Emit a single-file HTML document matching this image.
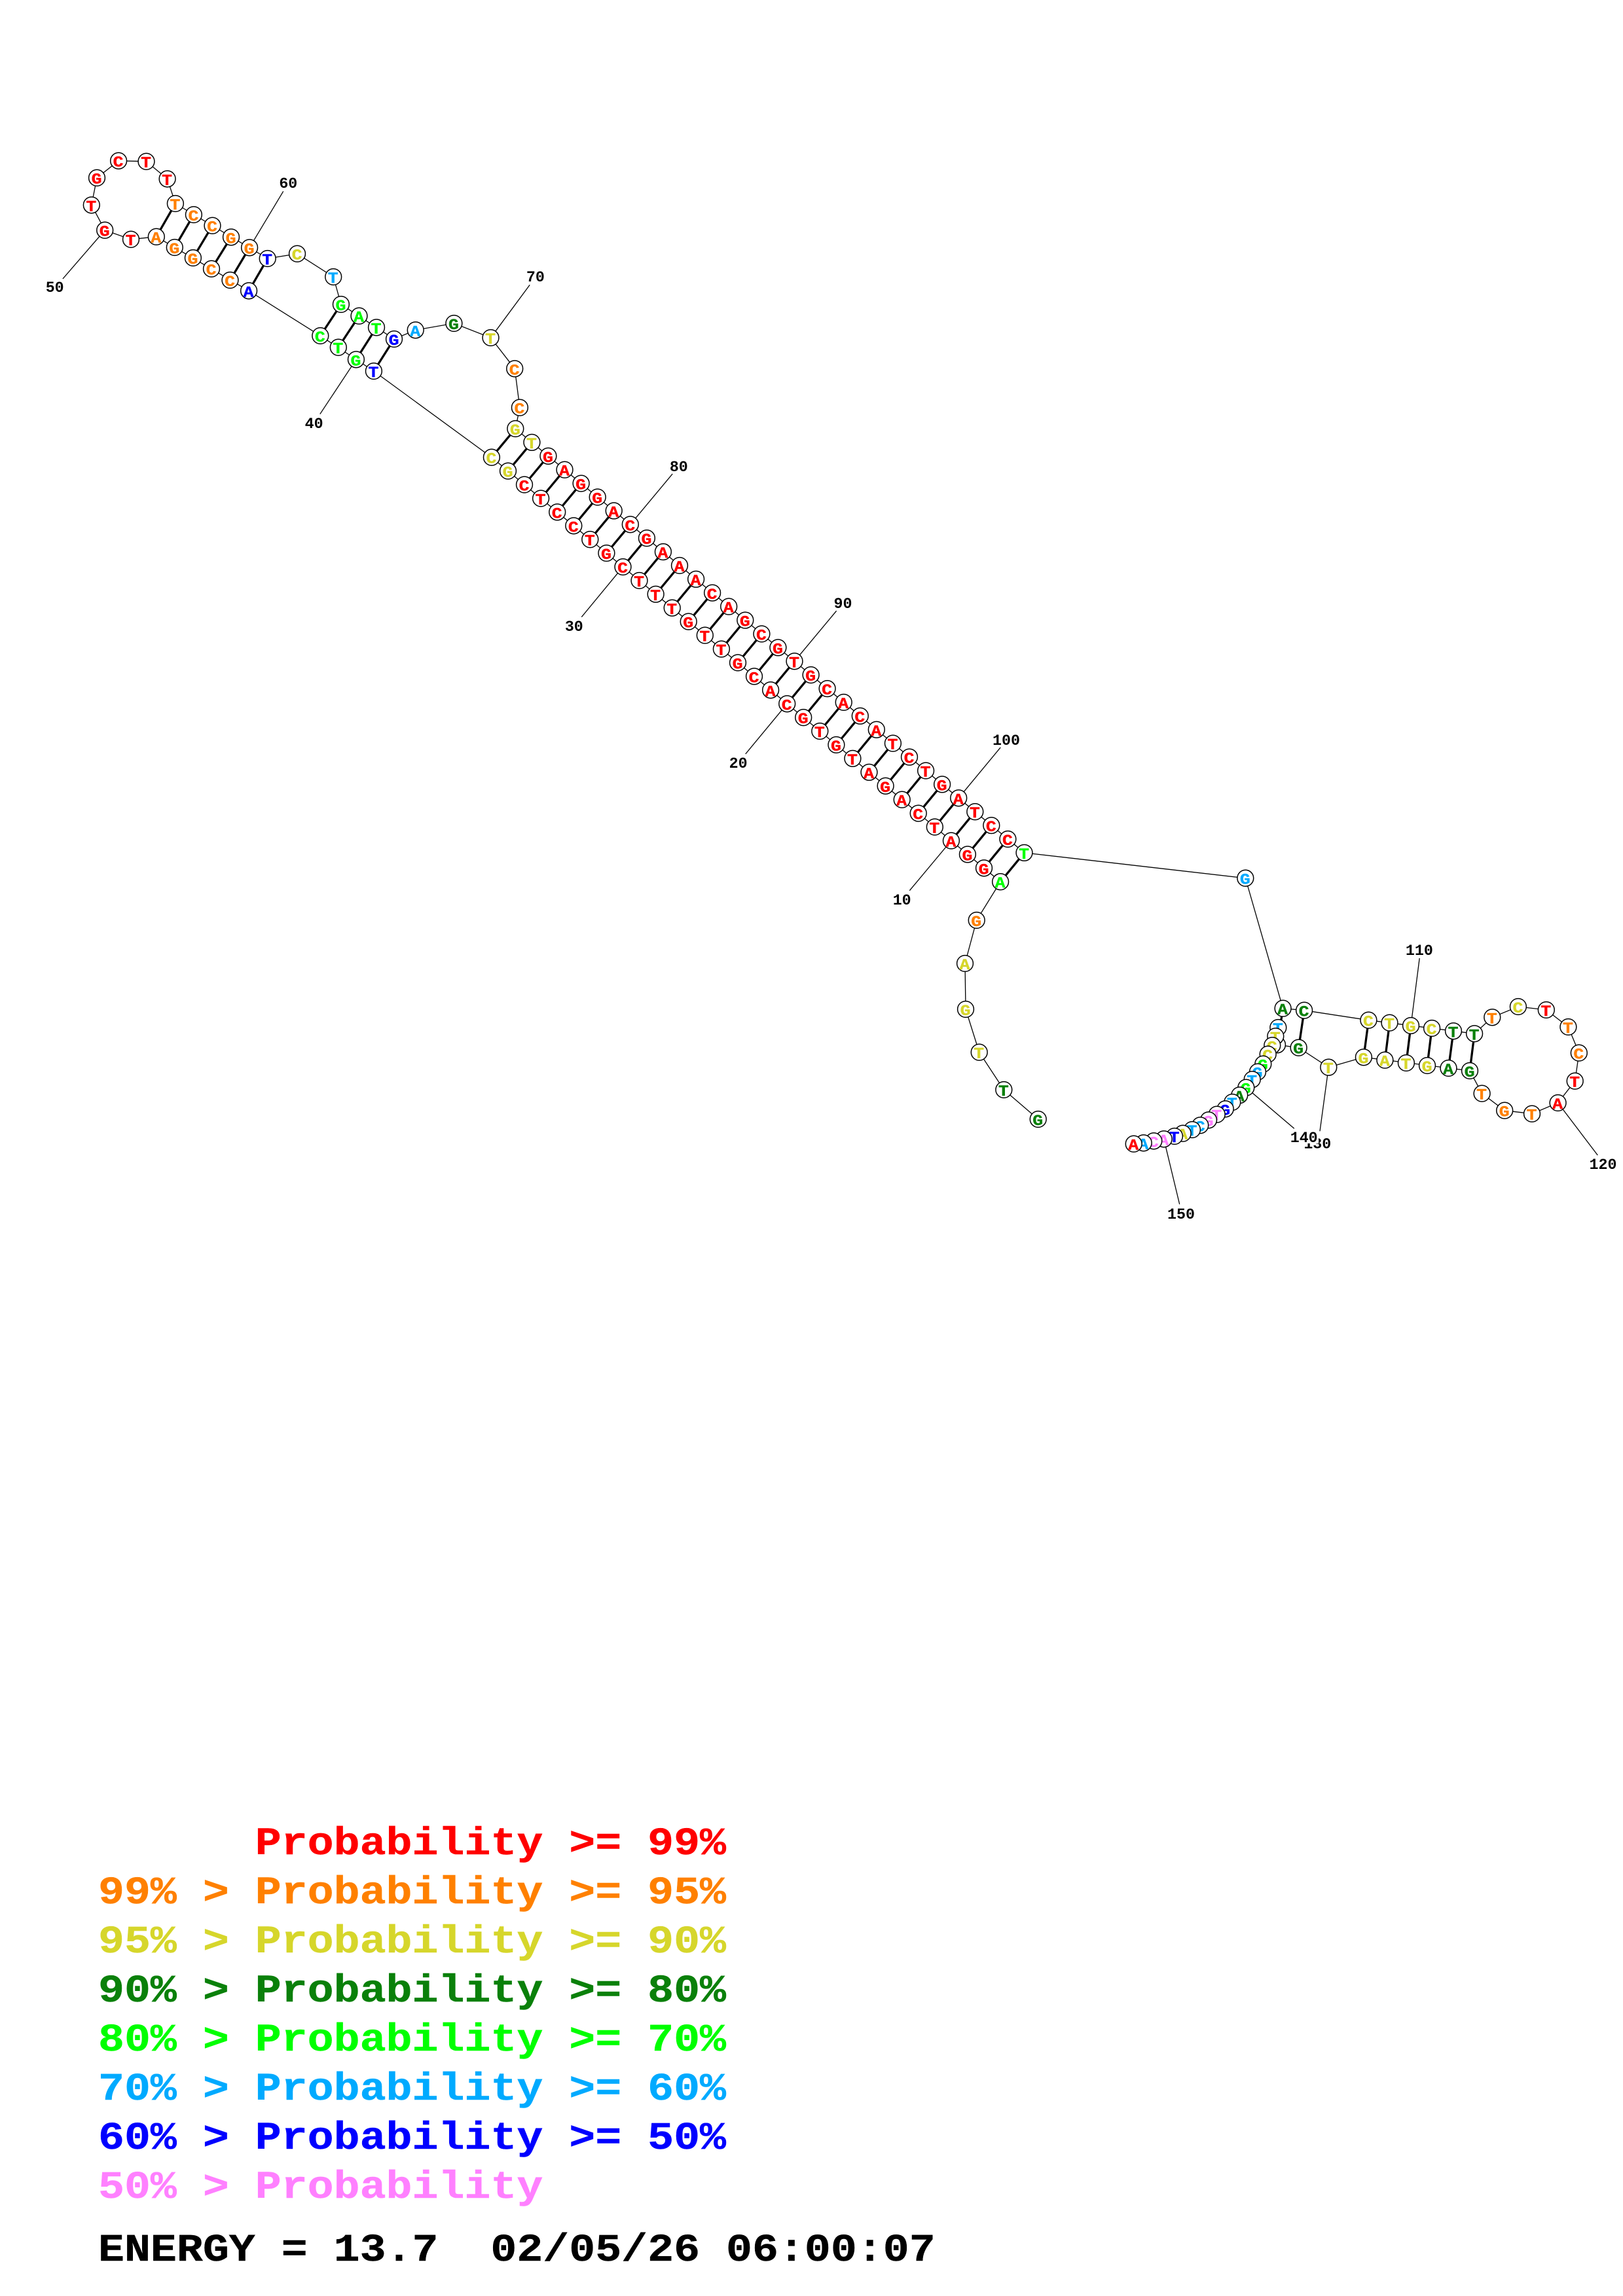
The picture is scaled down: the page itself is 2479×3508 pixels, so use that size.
<!DOCTYPE html>
<html><head><meta charset="utf-8"><style>
html,body{margin:0;padding:0;background:#fff}
svg{display:block}
.r{fill:#ff0000;stroke:#ff0000}.o{fill:#ff8000;stroke:#ff8000}.y{fill:#d6d62b;stroke:#d6d62b}.d{fill:#0a800a;stroke:#0a800a}.g{fill:#00ff00;stroke:#00ff00}.u{fill:#00aaff;stroke:#00aaff}.b{fill:#0000ff;stroke:#0000ff}.p{fill:#ff80ff;stroke:#ff80ff}.k{fill:#000;stroke:#000}
#n circle{r:12.4px;fill:#fff;stroke:#000;stroke-width:1.5}
#n text{font:bold 23px "Liberation Mono",monospace;text-anchor:middle;stroke-width:.4;transform:translate(-.5px,9px) scaleX(1.15)}
#l text{font:bold 23.3px "Liberation Mono",monospace;text-anchor:middle;fill:#000}
#h text{font:bold 66.6px "Liberation Mono",monospace;white-space:pre;stroke-width:.5}
</style></head><body>
<svg width="2479" height="3508" viewBox="0 0 2479 3508" xmlns="http://www.w3.org/2000/svg">
<rect width="2479" height="3508" fill="#fff"/>
<polyline fill="none" stroke="#000" stroke-width="1.3" points="1585.7,1710 1533.3,1665 1495.7,1607.7 1475,1542 1474,1472 1491.7,1406 1528.1,1347.2 750.9,698.7 570.9,567 489.3,513 380.1,444.3 238.8,361.7 200,365.7 160.2,351.7 139.8,313.3 148,271.7 181.1,245.7 223.5,246.7 255.6,273.3 267.9,311 408.7,395 454,387.7 509.2,423 520.9,465 602,518 634.7,504.3 693.4,494 749.5,516 786.2,563.3 793.9,622.7 787.3,655 1564.5,1302.9 1902.3,1341.7 1959.6,1540.7 1992.1,1543.7 2090.4,1558.7 2252.1,1579.3 2279.3,1554.3 2318.9,1538 2361.8,1543 2395.4,1569 2411.8,1608.7 2405.7,1651.7 2379.6,1685 2340,1701.7 2298.2,1696.7 2263.6,1670.7 2245,1636 2082.9,1615.3 2029.3,1630.7 1983.6,1600.7 1951,1596.3"/>
<path fill="none" stroke="#000" stroke-width="1.3" d="M432.7 292.3L381.1 378.3M95.9 426L160.2 351.7M809.2 435.3L749.5 516M488.8 632.7L543.9 549.3M1027.2 724L962.8 801.3M888.3 942.7L951.5 866.1M1277.6 933.3L1213.5 1010.3M1138.7 1152L1202.2 1075.3M1528.2 1142L1464.2 1219.3M1389.3 1360.7L1452.9 1284.5M2168.2 1464L2155 1567M2440.3 1765L2379.6 1685M2016 1728.3L2029.3 1630.7M1976.8 1724.3L1903.3 1661.7M1801.7 1840L1777.7 1740.3"/>
<path fill="none" stroke="#000" stroke-width="3.3" d="M267.9 311L238.8 361.7M295.9 328L266.8 378M324.5 344.7L294.9 394M353 362.3L323 410.7M381.1 378.3L351.5 428M408.7 395L380.1 444.3M520.9 465L489.3 513M548.5 482.7L516.8 530.7M575 500.3L543.9 549.3M602 518L570.9 567M787.3 655L750.9 698.7M812.4 675.9L776 719.6M837.4 696.8L801 740.5M862.5 717.7L826.1 761.5M887.6 738.6L851.2 782.4M912.7 759.5L876.3 803.3M937.7 780.4L901.3 824.2M962.8 801.3L926.4 845.1M987.9 822.2L951.5 866.1M1012.9 843.1L976.5 887M1038 864L1001.6 907.9M1063.1 884.9L1026.7 928.8M1088.1 905.8L1051.7 949.7M1113.2 926.7L1076.8 970.7M1138.3 947.6L1101.9 991.6M1163.4 968.5L1127 1012.5M1188.4 989.4L1152 1033.4M1213.5 1010.3L1177.1 1054.3M1238.6 1031.2L1202.2 1075.3M1263.6 1052.1L1227.2 1096.2M1288.7 1073L1252.3 1117.1M1313.8 1093.9L1277.4 1138M1338.8 1114.8L1302.4 1158.9M1363.9 1135.7L1327.5 1179.9M1389 1156.6L1352.6 1200.8M1414.1 1177.5L1377.7 1221.7M1439.1 1198.4L1402.7 1242.6M1464.2 1219.3L1427.8 1263.5M1489.3 1240.2L1452.9 1284.5M1514.3 1261.1L1477.9 1305.4M1539.4 1282L1503 1326.3M1564.5 1302.9L1528.1 1347.2M1959.6 1540.7L1951 1596.3M1992.1 1543.7L1983.6 1600.7M2090.4 1558.7L2082.9 1615.3M2122.5 1562.7L2115.4 1619.7M2155 1567L2147.9 1624M2187.1 1571L2180 1628M2220 1575.3L2212.5 1632M2252.1 1579.3L2245 1636"/>
<g id="n">
<g class="d" transform="translate(1585.7 1710)"><circle/><text>G</text></g>
<g class="d" transform="translate(1533.3 1665)"><circle/><text>T</text></g>
<g class="y" transform="translate(1495.7 1607.7)"><circle/><text>T</text></g>
<g class="y" transform="translate(1475 1542)"><circle/><text>G</text></g>
<g class="y" transform="translate(1474 1472)"><circle/><text>A</text></g>
<g class="o" transform="translate(1491.7 1406)"><circle/><text>G</text></g>
<g class="g" transform="translate(1528.1 1347.2)"><circle/><text>A</text></g>
<g class="r" transform="translate(1503 1326.3)"><circle/><text>G</text></g>
<g class="r" transform="translate(1477.9 1305.4)"><circle/><text>G</text></g>
<g class="r" transform="translate(1452.9 1284.5)"><circle/><text>A</text></g>
<g class="r" transform="translate(1427.8 1263.5)"><circle/><text>T</text></g>
<g class="r" transform="translate(1402.7 1242.6)"><circle/><text>C</text></g>
<g class="r" transform="translate(1377.7 1221.7)"><circle/><text>A</text></g>
<g class="r" transform="translate(1352.6 1200.8)"><circle/><text>G</text></g>
<g class="r" transform="translate(1327.5 1179.9)"><circle/><text>A</text></g>
<g class="r" transform="translate(1302.4 1158.9)"><circle/><text>T</text></g>
<g class="r" transform="translate(1277.4 1138)"><circle/><text>G</text></g>
<g class="r" transform="translate(1252.3 1117.1)"><circle/><text>T</text></g>
<g class="r" transform="translate(1227.2 1096.2)"><circle/><text>G</text></g>
<g class="r" transform="translate(1202.2 1075.3)"><circle/><text>C</text></g>
<g class="r" transform="translate(1177.1 1054.3)"><circle/><text>A</text></g>
<g class="r" transform="translate(1152 1033.4)"><circle/><text>C</text></g>
<g class="r" transform="translate(1127 1012.5)"><circle/><text>G</text></g>
<g class="r" transform="translate(1101.9 991.6)"><circle/><text>T</text></g>
<g class="r" transform="translate(1076.8 970.7)"><circle/><text>T</text></g>
<g class="r" transform="translate(1051.7 949.7)"><circle/><text>G</text></g>
<g class="r" transform="translate(1026.7 928.8)"><circle/><text>T</text></g>
<g class="r" transform="translate(1001.6 907.9)"><circle/><text>T</text></g>
<g class="r" transform="translate(976.5 887)"><circle/><text>T</text></g>
<g class="r" transform="translate(951.5 866.1)"><circle/><text>C</text></g>
<g class="r" transform="translate(926.4 845.1)"><circle/><text>G</text></g>
<g class="r" transform="translate(901.3 824.2)"><circle/><text>T</text></g>
<g class="r" transform="translate(876.3 803.3)"><circle/><text>C</text></g>
<g class="r" transform="translate(851.2 782.4)"><circle/><text>C</text></g>
<g class="r" transform="translate(826.1 761.5)"><circle/><text>T</text></g>
<g class="r" transform="translate(801 740.5)"><circle/><text>C</text></g>
<g class="y" transform="translate(776 719.6)"><circle/><text>G</text></g>
<g class="y" transform="translate(750.9 698.7)"><circle/><text>C</text></g>
<g class="b" transform="translate(570.9 567)"><circle/><text>T</text></g>
<g class="g" transform="translate(543.9 549.3)"><circle/><text>G</text></g>
<g class="g" transform="translate(516.8 530.7)"><circle/><text>T</text></g>
<g class="g" transform="translate(489.3 513)"><circle/><text>C</text></g>
<g class="b" transform="translate(380.1 444.3)"><circle/><text>A</text></g>
<g class="o" transform="translate(351.5 428)"><circle/><text>C</text></g>
<g class="o" transform="translate(323 410.7)"><circle/><text>C</text></g>
<g class="o" transform="translate(294.9 394)"><circle/><text>G</text></g>
<g class="o" transform="translate(266.8 378)"><circle/><text>G</text></g>
<g class="o" transform="translate(238.8 361.7)"><circle/><text>A</text></g>
<g class="r" transform="translate(200 365.7)"><circle/><text>T</text></g>
<g class="r" transform="translate(160.2 351.7)"><circle/><text>G</text></g>
<g class="r" transform="translate(139.8 313.3)"><circle/><text>T</text></g>
<g class="r" transform="translate(148 271.7)"><circle/><text>G</text></g>
<g class="r" transform="translate(181.1 245.7)"><circle/><text>C</text></g>
<g class="r" transform="translate(223.5 246.7)"><circle/><text>T</text></g>
<g class="r" transform="translate(255.6 273.3)"><circle/><text>T</text></g>
<g class="o" transform="translate(267.9 311)"><circle/><text>T</text></g>
<g class="o" transform="translate(295.9 328)"><circle/><text>C</text></g>
<g class="o" transform="translate(324.5 344.7)"><circle/><text>C</text></g>
<g class="o" transform="translate(353 362.3)"><circle/><text>G</text></g>
<g class="o" transform="translate(381.1 378.3)"><circle/><text>G</text></g>
<g class="b" transform="translate(408.7 395)"><circle/><text>T</text></g>
<g class="y" transform="translate(454 387.7)"><circle/><text>C</text></g>
<g class="u" transform="translate(509.2 423)"><circle/><text>T</text></g>
<g class="g" transform="translate(520.9 465)"><circle/><text>G</text></g>
<g class="g" transform="translate(548.5 482.7)"><circle/><text>A</text></g>
<g class="g" transform="translate(575 500.3)"><circle/><text>T</text></g>
<g class="b" transform="translate(602 518)"><circle/><text>G</text></g>
<g class="u" transform="translate(634.7 504.3)"><circle/><text>A</text></g>
<g class="d" transform="translate(693.4 494)"><circle/><text>G</text></g>
<g class="y" transform="translate(749.5 516)"><circle/><text>T</text></g>
<g class="o" transform="translate(786.2 563.3)"><circle/><text>C</text></g>
<g class="o" transform="translate(793.9 622.7)"><circle/><text>C</text></g>
<g class="y" transform="translate(787.3 655)"><circle/><text>G</text></g>
<g class="y" transform="translate(812.4 675.9)"><circle/><text>T</text></g>
<g class="r" transform="translate(837.4 696.8)"><circle/><text>G</text></g>
<g class="r" transform="translate(862.5 717.7)"><circle/><text>A</text></g>
<g class="r" transform="translate(887.6 738.6)"><circle/><text>G</text></g>
<g class="r" transform="translate(912.7 759.5)"><circle/><text>G</text></g>
<g class="r" transform="translate(937.7 780.4)"><circle/><text>A</text></g>
<g class="r" transform="translate(962.8 801.3)"><circle/><text>C</text></g>
<g class="r" transform="translate(987.9 822.2)"><circle/><text>G</text></g>
<g class="r" transform="translate(1012.9 843.1)"><circle/><text>A</text></g>
<g class="r" transform="translate(1038 864)"><circle/><text>A</text></g>
<g class="r" transform="translate(1063.1 884.9)"><circle/><text>A</text></g>
<g class="r" transform="translate(1088.1 905.8)"><circle/><text>C</text></g>
<g class="r" transform="translate(1113.2 926.7)"><circle/><text>A</text></g>
<g class="r" transform="translate(1138.3 947.6)"><circle/><text>G</text></g>
<g class="r" transform="translate(1163.4 968.5)"><circle/><text>C</text></g>
<g class="r" transform="translate(1188.4 989.4)"><circle/><text>G</text></g>
<g class="r" transform="translate(1213.5 1010.3)"><circle/><text>T</text></g>
<g class="r" transform="translate(1238.6 1031.2)"><circle/><text>G</text></g>
<g class="r" transform="translate(1263.6 1052.1)"><circle/><text>C</text></g>
<g class="r" transform="translate(1288.7 1073)"><circle/><text>A</text></g>
<g class="r" transform="translate(1313.8 1093.9)"><circle/><text>C</text></g>
<g class="r" transform="translate(1338.8 1114.8)"><circle/><text>A</text></g>
<g class="r" transform="translate(1363.9 1135.7)"><circle/><text>T</text></g>
<g class="r" transform="translate(1389 1156.6)"><circle/><text>C</text></g>
<g class="r" transform="translate(1414.1 1177.5)"><circle/><text>T</text></g>
<g class="r" transform="translate(1439.1 1198.4)"><circle/><text>G</text></g>
<g class="r" transform="translate(1464.2 1219.3)"><circle/><text>A</text></g>
<g class="r" transform="translate(1489.3 1240.2)"><circle/><text>T</text></g>
<g class="r" transform="translate(1514.3 1261.1)"><circle/><text>C</text></g>
<g class="r" transform="translate(1539.4 1282)"><circle/><text>C</text></g>
<g class="g" transform="translate(1564.5 1302.9)"><circle/><text>T</text></g>
<g class="u" transform="translate(1902.3 1341.7)"><circle/><text>G</text></g>
<g class="d" transform="translate(1959.6 1540.7)"><circle/><text>A</text></g>
<g class="d" transform="translate(1992.1 1543.7)"><circle/><text>C</text></g>
<g class="y" transform="translate(2090.4 1558.7)"><circle/><text>C</text></g>
<g class="y" transform="translate(2122.5 1562.7)"><circle/><text>T</text></g>
<g class="y" transform="translate(2155 1567)"><circle/><text>G</text></g>
<g class="y" transform="translate(2187.1 1571)"><circle/><text>C</text></g>
<g class="d" transform="translate(2220 1575.3)"><circle/><text>T</text></g>
<g class="d" transform="translate(2252.1 1579.3)"><circle/><text>T</text></g>
<g class="o" transform="translate(2279.3 1554.3)"><circle/><text>T</text></g>
<g class="y" transform="translate(2318.9 1538)"><circle/><text>C</text></g>
<g class="r" transform="translate(2361.8 1543)"><circle/><text>T</text></g>
<g class="o" transform="translate(2395.4 1569)"><circle/><text>T</text></g>
<g class="o" transform="translate(2411.8 1608.7)"><circle/><text>C</text></g>
<g class="r" transform="translate(2405.7 1651.7)"><circle/><text>T</text></g>
<g class="r" transform="translate(2379.6 1685)"><circle/><text>A</text></g>
<g class="o" transform="translate(2340 1701.7)"><circle/><text>T</text></g>
<g class="o" transform="translate(2298.2 1696.7)"><circle/><text>G</text></g>
<g class="o" transform="translate(2263.6 1670.7)"><circle/><text>T</text></g>
<g class="d" transform="translate(2245 1636)"><circle/><text>G</text></g>
<g class="d" transform="translate(2212.5 1632)"><circle/><text>A</text></g>
<g class="y" transform="translate(2180 1628)"><circle/><text>G</text></g>
<g class="y" transform="translate(2147.9 1624)"><circle/><text>T</text></g>
<g class="y" transform="translate(2115.4 1619.7)"><circle/><text>A</text></g>
<g class="y" transform="translate(2082.9 1615.3)"><circle/><text>G</text></g>
<g class="y" transform="translate(2029.3 1630.7)"><circle/><text>T</text></g>
<g class="d" transform="translate(1983.6 1600.7)"><circle/><text>G</text></g>
<g class="d" transform="translate(1951 1596.3)"><circle/><text>T</text></g>
<g class="u" transform="translate(1952.3 1570)"><circle/><text>T</text></g>
<g class="y" transform="translate(1948.3 1583.3)"><circle/><text>T</text></g>
<g class="y" transform="translate(1943.3 1597.3)"><circle/><text>C</text></g>
<g class="y" transform="translate(1936.7 1610.7)"><circle/><text>C</text></g>
<g class="g" transform="translate(1929.3 1625.7)"><circle/><text>G</text></g>
<g class="u" transform="translate(1921 1637.7)"><circle/><text>G</text></g>
<g class="u" transform="translate(1912.7 1649.3)"><circle/><text>T</text></g>
<g class="g" transform="translate(1903.3 1661.7)"><circle/><text>G</text></g>
<g class="d" transform="translate(1893.3 1673.3)"><circle/><text>A</text></g>
<g class="u" transform="translate(1882.3 1684)"><circle/><text>T</text></g>
<g class="b" transform="translate(1871.7 1694.3)"><circle/><text>G</text></g>
<g class="p" transform="translate(1858.7 1702.7)"><circle/><text>T</text></g>
<g class="p" transform="translate(1846 1711.3)"><circle/><text>G</text></g>
<g class="u" transform="translate(1833.3 1719.3)"><circle/><text>C</text></g>
<g class="u" transform="translate(1821 1726)"><circle/><text>T</text></g>
<g class="y" transform="translate(1806.7 1731.7)"><circle/><text>A</text></g>
<g class="b" transform="translate(1794 1736)"><circle/><text>T</text></g>
<g class="p" transform="translate(1777.7 1740.3)"><circle/><text>A</text></g>
<g class="p" transform="translate(1762.3 1743.3)"><circle/><text>C</text></g>
<g class="u" transform="translate(1746.7 1746.3)"><circle/><text>A</text></g>
<g class="r" transform="translate(1731.7 1747.7)"><circle/><text>A</text></g>
</g>
<g id="l">
<text x="440.3" y="287">60</text>
<text x="83.7" y="446">50</text>
<text x="817.9" y="430">70</text>
<text x="479.6" y="654">40</text>
<text x="1036.8" y="720">80</text>
<text x="876.8" y="964">30</text>
<text x="1287.5" y="929">90</text>
<text x="1127.6" y="1173">20</text>
<text x="1537" y="1138">100</text>
<text x="1377.7" y="1382">10</text>
<text x="2167.9" y="1459">110</text>
<text x="2448.5" y="1786">120</text>
<text x="2012.3" y="1754.5">130</text>
<rect x="1969" y="1729" width="45" height="18" fill="#fff"/>
<text x="1991.7" y="1745">140</text>
<text x="1804" y="1862">150</text>
</g>
<g id="h">
<text class="r" transform="translate(150 2833) scale(1 .89)">      Probability &gt;= 99%</text>
<text class="o" transform="translate(150 2908) scale(1 .89)">99% &gt; Probability &gt;= 95%</text>
<text class="y" transform="translate(150 2983) scale(1 .89)">95% &gt; Probability &gt;= 90%</text>
<text class="d" transform="translate(150 3058) scale(1 .89)">90% &gt; Probability &gt;= 80%</text>
<text class="g" transform="translate(150 3133) scale(1 .89)">80% &gt; Probability &gt;= 70%</text>
<text class="u" transform="translate(150 3208) scale(1 .89)">70% &gt; Probability &gt;= 60%</text>
<text class="b" transform="translate(150 3283) scale(1 .89)">60% &gt; Probability &gt;= 50%</text>
<text class="p" transform="translate(150 3358) scale(1 .89)">50% &gt; Probability</text>
<text class="k" transform="translate(150 3454) scale(1 .89)">ENERGY = 13.7  02/05/26 06:00:07</text>
</g>
</svg>
</body></html>
